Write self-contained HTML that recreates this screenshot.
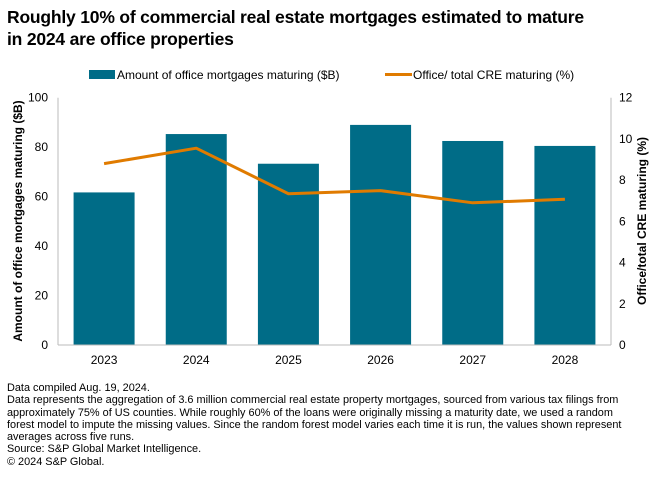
<!DOCTYPE html>
<html><head><meta charset="utf-8"><style>
body{margin:0;background:#fff;font-family:"Liberation Sans",sans-serif;}
#wrap{position:relative;width:660px;height:491px;overflow:hidden}
.title{position:absolute;left:7px;top:6px;font-size:17.5px;font-weight:bold;color:#000;line-height:22px;letter-spacing:-0.2px}
.notes{position:absolute;left:7px;top:382px;font-size:10.9px;color:#000;line-height:12.3px;width:660px;white-space:nowrap}
</style></head><body><div id="wrap">
<div class="title">Roughly 10% of commercial real estate mortgages estimated to mature<br>in 2024 are office properties</div>
<svg id="c" width="660" height="380" style="position:absolute;left:0;top:0"></svg>
<div class="notes">Data compiled Aug. 19, 2024.<br>Data represents the aggregation of 3.6 million commercial real estate property mortgages, sourced from various tax filings from<br>approximately 75% of US counties. While roughly 60% of the loans were originally missing a maturity date, we used a random<br>forest model to impute the missing values. Since the random forest model varies each time it is run, the values shown represent<br>averages across five runs.<br>Source: S&amp;P Global Market Intelligence.<br>© 2024 S&amp;P Global.</div>
</div>
<script>
const categories=["2023","2024","2025","2026","2027","2028"];
const amounts=[61.7,85.3,73.3,89,82.5,80.5];
const shares=[8.8,9.55,7.34,7.49,6.9,7.07];
const leftTicks=[0,20,40,60,80,100];
const rightTicks=[0,2,4,6,8,10,12];
const NS="http://www.w3.org/2000/svg";
const svg=document.getElementById('c');
const X0=58,X1=611,Y0=345,Y1=97.7;
const band=(X1-X0)/categories.length;
const xc=i=>X0+band*(i+0.5);
const yL=v=>Y0-(v/100)*(Y0-Y1);
const yR=v=>Y0-(v/12)*(Y0-Y1);
function el(t,a,p){const e=document.createElementNS(NS,t);for(const k in a)e.setAttribute(k,a[k]);(p||svg).appendChild(e);return e;}
function txt(x,y,s,a){const e=el('text',Object.assign({x:x,y:y,'font-size':12,fill:'#000','font-family':'Liberation Sans, sans-serif'},a||{}));e.textContent=s;return e;}
categories.forEach((c,i)=>{
 const b=el('rect',{x:xc(i)-30.5,y:yL(amounts[i]),width:61,height:Y0-yL(amounts[i]),fill:'#006c87'});
 
 
 const t=txt(xc(i),364,c,{'text-anchor':'middle'});
 
 
});
el('line',{x1:X0,y1:Y1,x2:X0,y2:Y0,stroke:'#bbb'});
el('line',{x1:X1,y1:Y1,x2:X1,y2:Y0,stroke:'#bbb'});
el('line',{x1:X0,y1:Y0,x2:X1,y2:Y0,stroke:'#bbb'});
leftTicks.forEach(v=>{const t=txt(48,yL(v)+4,String(v),{'text-anchor':'end'});
 
 });
rightTicks.forEach(v=>{const t=txt(619,yR(v)+4,String(v));
 
 });
const pts=shares.map((v,i)=>xc(i)+','+yR(v)).join(' ');
const ln=el('polyline',{points:pts,fill:'none',stroke:'#e07b00','stroke-width':3,'stroke-linejoin':'round'});


const yt=txt(0,0,'Amount of office mortgages maturing ($B)',{transform:'translate(22,221) rotate(-90)','text-anchor':'middle','font-weight':'bold'});


const yt2=txt(0,0,'Office/total CRE maturing (%)',{transform:'translate(646,221) rotate(-90)','text-anchor':'middle','font-weight':'bold'});


const lg1=el('rect',{x:89,y:70,width:26,height:9,fill:'#006c87'});


const lt1=txt(117,79,'Amount of office mortgages maturing ($B)');


const lg2=el('line',{x1:385,y1:74.5,x2:412,y2:74.5,stroke:'#e07b00','stroke-width':3});


const lt2=txt(413,79,'Office/ total CRE maturing (%)');


</script></body></html>
